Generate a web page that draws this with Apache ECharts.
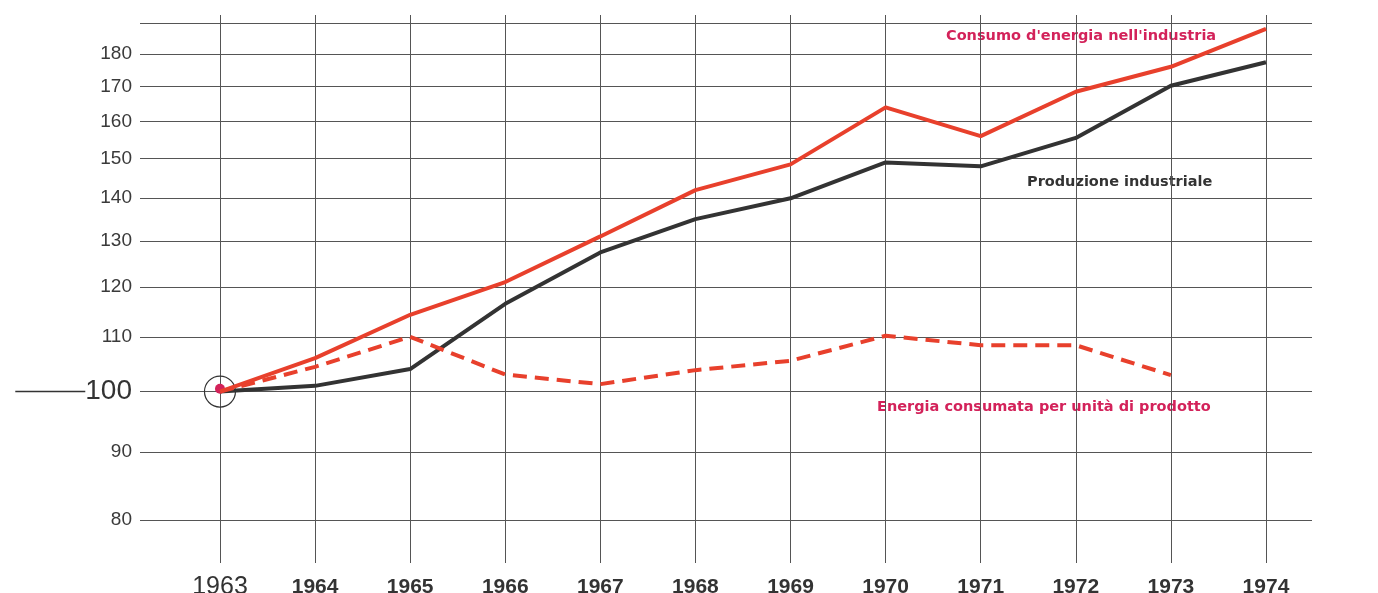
<!DOCTYPE html>
<html>
<head>
<meta charset="utf-8">
<script src="https://cdn.jsdelivr.net/npm/echarts@6/dist/echarts.min.js"></script>
<style>
html, body { margin: 0; padding: 0; background: #fff; }
#chart { width: 1378px; height: 593px; }
</style>
</head>
<body>
<div id="chart"></div>
<script>
var years = [1963, 1964, 1965, 1966, 1967, 1968, 1969, 1970, 1971, 1972, 1973, 1974];
var consumo = [100, 106, 114.3, 121, 131, 142, 148.5, 164, 156, 168.5, 176, 188];
var produzione = [100, 101, 104, 116.5, 127.4, 135, 140, 149, 148, 155.5, 170.3, 177.4];
var perUnita = [100, 104.4, 110, 103, 101.3, 103.8, 105.5, 110.2, 108.4, 108.4, 102.9, null];
var yGrid = [80, 90, 100, 110, 120, 130, 140, 150, 160, 170, 180, 190];
var yLabels = [80, 90, 100, 110, 120, 130, 140, 150, 160, 170, 180];

var RED = '#e8402c';
var TXT_RED = '#d3225a';

function pairs(vals) {
	var out = [];
	for (var i = 0; i < years.length; i++) {
		out.push([years[i], vals[i]]);
	}
	return out;
}

var chart = echarts.init(document.getElementById('chart'));

var option = {
	backgroundColor: '#fff',
	animation: false,
	grid: { left: 140, right: 66, top: 15, bottom: 30, outerBoundsMode: 'none', containLabel: false },
	xAxis: {
		type: 'value',
		min: 1962.159,
		max: 1974.484,
		axisLine: { show: false },
		axisTick: { show: false, customValues: years },
		splitLine: { show: true, lineStyle: { color: '#555', width: 1 } },
		axisLabel: {
			customValues: years,
			margin: 12,
			formatter: function (v) {
				return v === 1963 ? '{big|' + v + '}' : '{sm|' + v + '}';
			},
			rich: {
				big: { fontFamily: 'Liberation Sans', fontSize: 25, color: '#333', padding: [0, 0, 5, 0] },
				sm: { fontFamily: '"Liberation Sans Narrow", "Liberation Sans"', fontWeight: 'bold', fontSize: 21, color: '#333', padding: [2, 0, 0, 0] }
			}
		}
	},
	yAxis: {
		type: 'log',
		logBase: 10,
		min: 74.2,
		max: 192.6,
		axisLine: { show: false },
		axisTick: { show: false, customValues: yGrid },
		splitLine: { show: true, lineStyle: { color: '#555', width: 1 } },
		axisLabel: {
			customValues: yLabels,
			margin: 8,
			formatter: function (v) {
				return v === 100 ? '{ln| }{big|100}' : '{n|' + v + '}';
			},
			rich: {
				n: { fontFamily: 'Liberation Sans', fontSize: 19, color: '#3a3a3a' },
				big: { fontFamily: 'Liberation Sans', fontSize: 28, color: '#333' },
				ln: { width: 70, height: 1.5, backgroundColor: '#333', verticalAlign: 'middle', padding: 0 }
			}
		}
	},
	series: [
		{
			name: 'Produzione industriale',
			type: 'line',
			data: pairs(produzione),
			showSymbol: false,
			lineStyle: { color: '#333', width: 4 },
			z: 3,
			markPoint: {
				silent: true,
				symbol: 'circle',
				symbolSize: 31,
				itemStyle: { color: 'rgba(0,0,0,0)', borderColor: '#333', borderWidth: 1.2 },
				label: { show: false },
				data: [{ coord: [1963, 100] }]
			}
		},
		{
			name: "Energia consumata per unità di prodotto",
			type: 'line',
			data: pairs(perUnita),
			showSymbol: false,
			lineStyle: { color: RED, width: 4, type: [14, 8] },
			z: 4
		},
		{
			name: "Consumo d'energia nell'industria",
			type: 'line',
			data: pairs(consumo),
			showSymbol: false,
			lineStyle: { color: RED, width: 4 },
			z: 5,
			markPoint: {
				silent: true,
				symbol: 'circle',
				symbolSize: 10,
				itemStyle: { color: TXT_RED },
				label: { show: false },
				data: [{ coord: [1963, 100.5] }]
			}
		}
	],
	graphic: [
		{
			type: 'text', left: 946, top: 29,
			style: { text: "Consumo d'energia nell'industria", fill: TXT_RED, font: 'bold 14.5px "DejaVu Sans"' }
		},
		{
			type: 'text', left: 1027, top: 175,
			style: { text: 'Produzione industriale', fill: '#333', font: 'bold 14.5px "DejaVu Sans"' }
		},
		{
			type: 'text', left: 877, top: 400,
			style: { text: 'Energia consumata per unità di prodotto', fill: TXT_RED, font: 'bold 14.5px "DejaVu Sans"' }
		}
	]
};

chart.setOption(option);
</script>
</body>
</html>
